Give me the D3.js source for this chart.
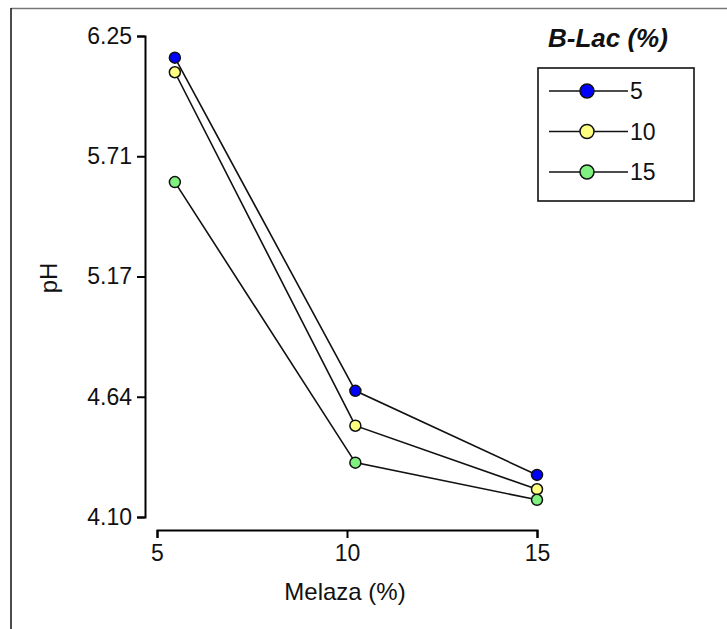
<!DOCTYPE html>
<html>
<head>
<meta charset="utf-8">
<script src="https://cdn.jsdelivr.net/npm/d3@7"></script>
<style>
  html, body { margin: 0; padding: 0; background: #fff; }
  svg { display: block; font-family: "Liberation Sans", Arial, sans-serif; }
</style>
</head>
<body>
<svg id="chart" width="727" height="629"></svg>
<script>
// Molasses level (%) on the x axis
const melaza = [5.47, 10.22, 15];
// B-Lac levels (%) shown as separate series
const seriesNames = ["5", "10", "15"];
const seriesColors = ["#0000ff", "#ffff80", "#80f080"];
// pH readings per B-Lac level
const ph5  = [6.153, 4.664, 4.288];
const ph10 = [6.088, 4.508, 4.224];
const ph15 = [5.597, 4.343, 4.177];
const yTicks = [4.10, 4.6375, 5.175, 5.7125, 6.25];
const yTickLabels = ["4.10", "4.64", "5.17", "5.71", "6.25"];
const xTicks = [5, 10, 15];

const series = [ph5, ph10, ph15].map((vals, i) => ({
  name: seriesNames[i],
  color: seriesColors[i],
  points: vals.map((v, j) => ({ x: melaza[j], y: v }))
}));

const svg = d3.select("#chart");

// frame lines
svg.append("line").attr("x1", 11).attr("x2", 727).attr("y1", 8.5).attr("y2", 8.5)
  .attr("stroke", "#777").attr("stroke-width", 1.5);
svg.append("line").attr("x1", 11).attr("x2", 11).attr("y1", 8).attr("y2", 629)
  .attr("stroke", "#111").attr("stroke-width", 1.5);

const x = d3.scaleLinear().domain([5, 15]).range([157, 537]);
const y = d3.scaleLinear().domain([4.10, 6.25]).range([517, 36]);

// y axis (offset to the left of the plot)
const yAxis = svg.append("g").attr("transform", "translate(145,0)")
  .call(d3.axisLeft(y).tickValues(yTicks).tickFormat((d, i) => yTickLabels[i]).tickSizeOuter(0).tickSize(8).tickPadding(5));
// x axis (offset below the plot)
const xAxis = svg.append("g").attr("transform", "translate(0,530)")
  .call(d3.axisBottom(x).tickValues(xTicks).tickFormat(d3.format("d")).tickSizeOuter(0).tickSize(8).tickPadding(7));

[yAxis, xAxis].forEach(g => {
  g.select(".domain").attr("stroke", "#000").attr("stroke-width", 2);
  g.selectAll(".tick line").attr("stroke", "#000").attr("stroke-width", 2);
  g.selectAll(".tick text").attr("fill", "#111").style("font-size", "23px")
    .style("font-family", '"Liberation Sans", Arial, sans-serif');
});

// axis titles
svg.append("text").attr("x", 345).attr("y", 600).attr("text-anchor", "middle")
  .style("font-size", "24px").attr("fill", "#111").text("Melaza (%)");
svg.append("text").attr("transform", "translate(57,278) rotate(-90)").attr("text-anchor", "middle")
  .style("font-size", "24px").attr("fill", "#111").text("pH");

// series lines
const line = d3.line().x(d => x(d.x)).y(d => y(d.y));
svg.append("g").selectAll("path").data(series).join("path")
  .attr("d", d => line(d.points)).attr("fill", "none")
  .attr("stroke", "#111").attr("stroke-width", 1.6);

// markers
series.forEach(s => {
  svg.append("g").selectAll("circle").data(s.points).join("circle")
    .attr("cx", d => x(d.x)).attr("cy", d => y(d.y)).attr("r", 5.5)
    .attr("fill", s.color).attr("stroke", "#111").attr("stroke-width", 1.5);
});

// legend
svg.append("text").attr("x", 548).attr("y", 47)
  .style("font-size", "26px").style("font-weight", "bold").style("font-style", "italic")
  .attr("fill", "#111").text("B-Lac (%)");
svg.append("rect").attr("x", 538).attr("y", 68).attr("width", 156).attr("height", 133)
  .attr("fill", "none").attr("stroke", "#111").attr("stroke-width", 1.6);
const rowY = d3.scalePoint().domain(seriesNames).range([91, 172]);
const leg = svg.append("g").selectAll("g").data(series).join("g")
  .attr("transform", d => `translate(0,${rowY(d.name)})`);
leg.append("line").attr("x1", 549).attr("x2", 628).attr("stroke", "#111").attr("stroke-width", 1.6);
leg.append("circle").attr("cx", 587).attr("r", 7).attr("fill", d => d.color)
  .attr("stroke", "#111").attr("stroke-width", 1.5);
leg.append("text").attr("x", 630).attr("dy", "0.35em").style("font-size", "23px")
  .attr("fill", "#111").text(d => d.name);
</script>
</body>
</html>
